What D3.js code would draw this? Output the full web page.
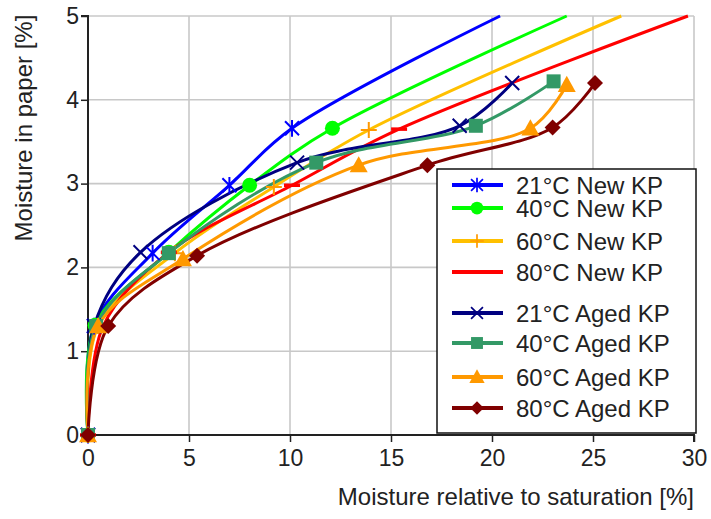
<!DOCTYPE html>
<html><head><meta charset="utf-8">
<script src="https://cdn.jsdelivr.net/npm/d3@7"></script>
<style>
html,body{margin:0;padding:0;background:#fff;}
text{font-family:"Liberation Sans",Arial,sans-serif;}
</style></head>
<body><svg id="c" width="711" height="519"></svg>
<script>
// ---- data ----
const seriesNames = ["21°C New KP","40°C New KP","60°C New KP","80°C New KP","21°C Aged KP","40°C Aged KP","60°C Aged KP","80°C Aged KP"];
const new21X = [0, 0.3, 3.2, 7.0, 10.1, 20.4];
const new21Y = [0, 1.3, 2.17, 2.98, 3.66, 5.0];
const new40X = [0, 0.35, 4.0, 8.0, 12.1, 23.7];
const new40Y = [0, 1.31, 2.18, 2.98, 3.66, 5.0];
const new60X = [0, 0.5, 4.3, 9.2, 13.9, 26.4];
const new60Y = [0, 1.3, 2.17, 2.96, 3.64, 5.0];
const new80X = [0, 0.75, 4.0, 10.1, 15.4, 29.7];
const new80Y = [0, 1.3, 2.18, 2.98, 3.65, 5.0];
const aged21X = [0, 0.3, 2.6, 10.35, 18.4, 21.0];
const aged21Y = [0, 1.3, 2.18, 3.25, 3.69, 4.2];
const aged40X = [0, 0.4, 4.0, 11.3, 19.2, 23.05];
const aged40Y = [0, 1.3, 2.17, 3.25, 3.69, 4.22];
const aged60X = [0, 0.5, 4.7, 13.4, 21.9, 23.7];
const aged60Y = [0, 1.3, 2.1, 3.22, 3.66, 4.18];
const aged80X = [0, 1.0, 5.4, 16.8, 23.0, 25.1];
const aged80Y = [0, 1.3, 2.14, 3.22, 3.67, 4.2];
const xTicks = [0, 5, 10, 15, 20, 25, 30];
const yTicks = [0, 1, 2, 3, 4, 5];
const xTitle = "Moisture relative to saturation [%]";
const yTitle = "Moisture in paper [%]";
// New KP series leave the frame at the top: their last point carries no marker
const markedCount = [5, 5, 5, 5, 6, 6, 6, 6];

// ---- styles ----
const colors = ["#0000ff","#00ff00","#ffc000","#ff0000","#000080","#339966","#ff9900","#800000"];
const markerColors = ["#0000ff","#00ff00","#ff9900","#ff0000","#000080","#339966","#ff9900","#800000"];
const markerTypes = ["star","circle","plus","dash","cross","square","triangle","diamond"];

const svg = d3.select("#c");
const L = 88, R = 694, T = 16, B = 435;
const x = d3.scaleLinear().domain([0, 30]).range([L, R]);
const y = d3.scaleLinear().domain([0, 5]).range([B, T]);

// grid
const grid = svg.append("g");
grid.selectAll("line.v").data(xTicks.slice(1)).enter().append("line")
  .attr("x1", d => x(d)).attr("x2", d => x(d)).attr("y1", T).attr("y2", B)
  .attr("stroke", "#c8c8c8").attr("stroke-width", 1.6);
grid.selectAll("line.h").data(yTicks.slice(1)).enter().append("line")
  .attr("x1", L).attr("x2", R).attr("y1", d => y(d)).attr("y2", d => y(d))
  .attr("stroke", "#c8c8c8").attr("stroke-width", 1.6);

// axes
const xAxis = d3.axisBottom(x).tickValues(xTicks).tickSize(7).tickPadding(8).tickFormat(d3.format("d"));
const yAxis = d3.axisLeft(y).tickValues(yTicks).tickSize(7).tickPadding(2).tickFormat(d3.format("d"));
const gx = svg.append("g").attr("transform", `translate(0,${B})`).call(xAxis);
const gy = svg.append("g").attr("transform", `translate(${L},0)`).call(yAxis);
[gx, gy].forEach(g => {
  g.select(".domain").attr("stroke", "#222").attr("stroke-width", 2);
  g.selectAll(".tick line").attr("stroke", "#222").attr("stroke-width", 1.5);
  g.selectAll(".tick text").attr("fill", "#222").style("font-size", "23px")
    .style("font-family", '"Liberation Sans",Arial,sans-serif');
});
gy.select(".domain").attr("d", `M-7,${T}H0V${B}`);
gx.select(".domain").attr("d", `M${L},0H${R}V7`);

svg.append("text").attr("x", R).attr("y", 505).attr("text-anchor", "end")
  .attr("fill", "#222").style("font-size", "24px").text(xTitle);
svg.append("text").attr("transform", `translate(32,${(T + 240) / 2}) rotate(-90)`)
  .attr("text-anchor", "middle").attr("fill", "#222").style("font-size", "24px").text(yTitle);

// series
const xs = [new21X,new40X,new60X,new80X,aged21X,aged40X,aged60X,aged80X];
const ys = [new21Y,new40Y,new60Y,new80Y,aged21Y,aged40Y,aged60Y,aged80Y];
const series = seriesNames.map((n, i) => ({
  name: n, color: colors[i], mcolor: markerColors[i], type: markerTypes[i],
  pts: xs[i].map((v, j) => ({x: v, y: ys[i][j]})), nm: markedCount[i]
}));

const line = d3.line().x(d => x(d.x)).y(d => y(d.y)).curve(d3.curveCatmullRom.alpha(0.5));
const lines = svg.append("g");
series.forEach(s => {
  lines.append("path").attr("d", line(s.pts)).attr("fill", "none")
    .attr("stroke", s.color).attr("stroke-width", 3).attr("stroke-linejoin", "round");
});

function marker(g, type, cx, cy, col, k) {
  k = k || 1;
  const sw = 2 * k;
  if (type === "circle") {
    g.append("circle").attr("cx", cx).attr("cy", cy).attr("r", 7.5 * k).attr("fill", col);
  } else if (type === "square") {
    g.append("rect").attr("x", cx - 7 * k).attr("y", cy - 7 * k).attr("width", 14 * k).attr("height", 14 * k).attr("fill", col);
  } else if (type === "triangle") {
    const h = 9 * k;
    g.append("path").attr("d", `M${cx},${cy - h}L${cx + h},${cy + h * 0.8}L${cx - h},${cy + h * 0.8}Z`).attr("fill", col);
  } else if (type === "diamond") {
    const h = 8 * k;
    g.append("path").attr("d", `M${cx},${cy - h}L${cx + h},${cy}L${cx},${cy + h}L${cx - h},${cy}Z`).attr("fill", col);
  } else if (type === "star") {
    const h = 7 * k;
    g.append("path").attr("d", `M${cx - h},${cy - h}L${cx + h},${cy + h}M${cx - h},${cy + h}L${cx + h},${cy - h}M${cx},${cy - h * 1.2}V${cy + h * 1.2}`)
      .attr("stroke", col).attr("stroke-width", sw).attr("fill", "none");
  } else if (type === "cross") {
    const h = 7 * k;
    g.append("path").attr("d", `M${cx - h},${cy - h}L${cx + h},${cy + h}M${cx - h},${cy + h}L${cx + h},${cy - h}`)
      .attr("stroke", col).attr("stroke-width", sw).attr("fill", "none");
  } else if (type === "plus") {
    const h = 8 * k;
    g.append("path").attr("d", `M${cx - h},${cy}H${cx + h}M${cx},${cy - h}V${cy + h}`)
      .attr("stroke", col).attr("stroke-width", sw).attr("fill", "none");
  } else if (type === "dash") {
    const h = 8 * k;
    g.append("path").attr("d", `M${cx - h},${cy}H${cx + h}`)
      .attr("stroke", col).attr("stroke-width", 3.5 * k).attr("fill", "none");
  }
}

const marks = svg.append("g");
series.forEach(s => {
  s.pts.slice(0, s.nm).forEach(p => marker(marks, s.type, x(p.x), y(p.y), s.mcolor));
});

// legend
const lg = svg.append("g");
lg.append("rect").attr("x", 437).attr("y", 169).attr("width", 259).attr("height", 264)
  .attr("fill", "#fff").attr("stroke", "#111").attr("stroke-width", 1.5);
const rowY = [185, 208, 241, 272, 313, 343, 377, 408];
series.forEach((s, i) => {
  const ry = rowY[i];
  lg.append("line").attr("x1", 452).attr("x2", 503).attr("y1", ry).attr("y2", ry)
    .attr("stroke", s.color).attr("stroke-width", 4);
  marker(lg, s.type, 477, ry, s.mcolor, 0.85);
  lg.append("text").attr("x", 516).attr("y", ry + 8.5).attr("fill", "#222")
    .style("font-size", "24px").text(s.name);
});
</script></body></html>
